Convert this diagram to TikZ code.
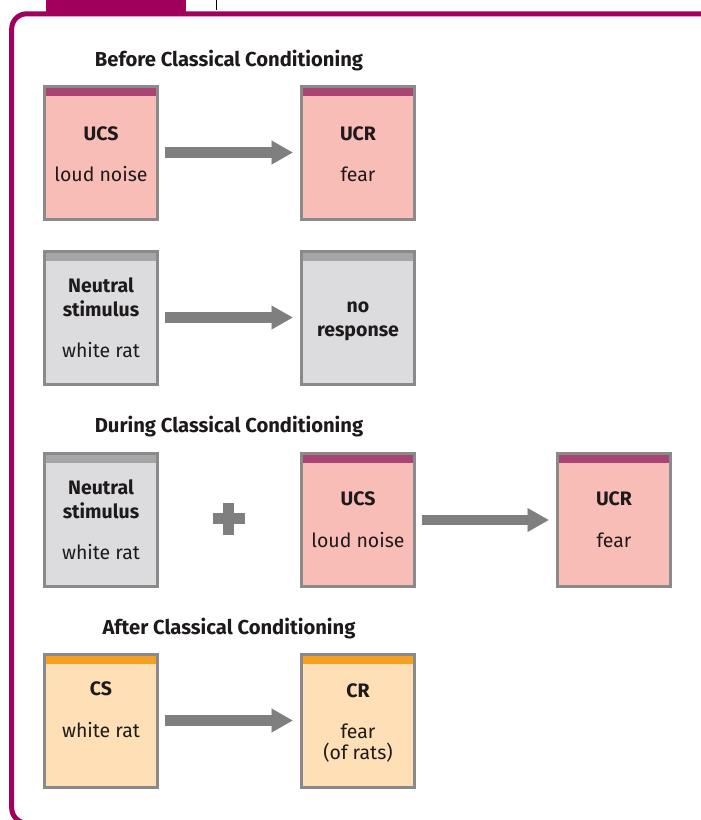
\documentclass[tikz,border=0pt]{standalone}
\usepackage{fontspec}
\setmainfont{Fira Sans}
\usetikzlibrary{arrows.meta}

\definecolor{framemag}{HTML}{A0005C}
\definecolor{cardline}{HTML}{8A8A8A}
\definecolor{arrowgrey}{HTML}{7F7F7F}
\definecolor{inktext}{HTML}{1E1A1B}
\definecolor{pinkfill}{HTML}{F9BDB8}
\definecolor{pinkbar}{HTML}{AA4472}
\definecolor{greyfill}{HTML}{DCDCDE}
\definecolor{greybar}{HTML}{A6A6A8}
\definecolor{peachfill}{HTML}{FEDFB6}
\definecolor{peachbar}{HTML}{F5A023}

\begin{document}
\begin{tikzpicture}[x=1pt,y=1pt,
  card/.style={draw=cardline, line width=3pt, minimum width=113pt,
    minimum height=133pt, inner sep=0pt, outer sep=0pt, anchor=north west},
  barred/.style={path picture={\fill[#1]
    (path picture bounding box.north west) rectangle
    ([yshift=-9.5pt]path picture bounding box.north east);}},
  pinkcard/.style={card, fill=pinkfill, barred=pinkbar},
  greycard/.style={card, fill=greyfill, barred=greybar},
  peachcard/.style={card, fill=peachfill, barred=peachbar},
  term/.style={font=\fontsize{19.5}{19.5}\selectfont\bfseries, text=inktext, anchor=base, inner sep=0pt},
  word/.style={font=\fontsize{19.5}{19.5}\selectfont, text=inktext, anchor=base, inner sep=0pt},
  heading/.style={font=\fontsize{20.2}{20.2}\selectfont\bfseries, text=inktext, anchor=base, inner sep=0pt},
  flow/.style={arrowgrey, line width=10.5pt,
    -{Triangle[length=21pt, width=24pt, line width=0.01pt]},
    shorten <=7.5pt, shorten >=9pt},
]
\useasboundingbox (0,0) rectangle (701,-820);
\clip (0,0) rectangle (701,-820);

% outer frame with its tab
\fill[framemag] (46,2) rectangle (186,-13);
\draw[framemag, line width=5pt, rounded corners=15pt]
  (710,-13.8) -- (11.7,-13.8) [sharp corners] -- (11.7,-500) [rounded corners=15pt] -- (11.7,-823) -- (710,-823);
\draw[black, line width=1pt] (216.5,0) -- (216.5,-10);

% section headings
\node[heading] (hbefore) at (229,-66) {Before Classical Conditioning};
\node[heading] (hduring) at (229,-432) {During Classical Conditioning};
\node[heading] (hafter)  at (229,-634) {After Classical Conditioning};

% before: row 1
\node[pinkcard] (ucsA) at (44.5,-86) {};
\node[pinkcard] (ucrA) at (301.5,-86) {};
\node[term] (ucsAt) at ([yshift=-54pt]ucsA.north) {UCS};
\node[word] (ucsAw) at ([yshift=-95pt]ucsA.north) {loud noise};
\node[term] (ucrAt) at ([yshift=-54pt]ucrA.north) {UCR};
\node[word] (ucrAw) at ([yshift=-95pt]ucrA.north) {fear};
\draw[flow] (ucsA) -- (ucrA);

% before: row 2
\node[greycard] (nsA) at (44.5,-251) {};
\node[greycard] (nrA) at (301.5,-251) {};
\node[term] (nsAt1) at ([yshift=-41pt]nsA.north) {Neutral};
\node[term] (nsAt2) at ([yshift=-65pt]nsA.north) {stimulus};
\node[word] (nsAw)  at ([yshift=-106pt]nsA.north) {white rat};
\node[term] (nrAt1) at ([yshift=-61pt]nrA.north) {no};
\node[term] (nrAt2) at ([yshift=-85pt]nrA.north) {response};
\draw[flow] (nsA) -- (nrA);

% during
\node[greycard] (nsB) at (44.5,-453.5) {};
\node[pinkcard] (ucsB) at (301.5,-453.5) {};
\node[pinkcard] (ucrB) at (557.5,-453.5) {};
\node[term] (nsBt1) at ([yshift=-40.5pt]nsB.north) {Neutral};
\node[term] (nsBt2) at ([yshift=-64.5pt]nsB.north) {stimulus};
\node[word] (nsBw)  at ([yshift=-105.5pt]nsB.north) {white rat};
\node[term] (ucsBt) at ([yshift=-51.5pt]ucsB.north) {UCS};
\node[word] (ucsBw) at ([yshift=-93.5pt]ucsB.north) {loud noise};
\node[term] (ucrBt) at ([yshift=-51.5pt]ucrB.north) {UCR};
\node[word] (ucrBw) at ([yshift=-93.5pt]ucrB.north) {fear};
\fill[arrowgrey] (213,-513) rectangle (245,-524);
\fill[arrowgrey] (223,-503) rectangle (234,-535);
\draw[flow] (ucsB) -- (ucrB);

% after
\node[peachcard] (csC) at (44.5,-654) {};
\node[peachcard] (crC) at (301.5,-654) {};
\node[term] (csCt) at ([yshift=-41pt]csC.north) {CS};
\node[word] (csCw) at ([yshift=-83pt]csC.north) {white rat};
\node[term] (crCt) at ([yshift=-43pt]crC.north) {CR};
\node[word] (crCw1) at ([yshift=-84pt]crC.north) {fear};
\node[word] (crCw2) at ([yshift=-105pt]crC.north) {(of rats)};
\draw[flow] (csC) -- (crC);
\end{tikzpicture}
\end{document}
